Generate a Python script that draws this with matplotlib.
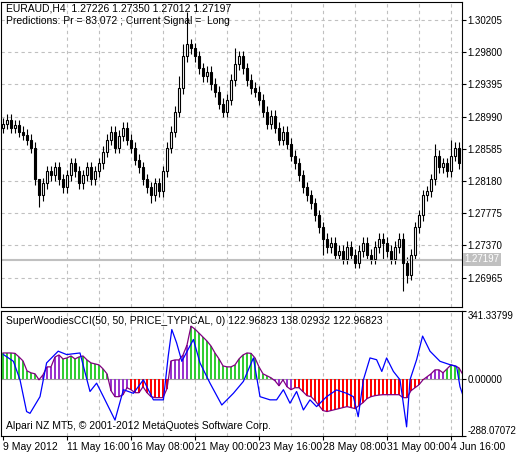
import numpy as np
import matplotlib.pyplot as plt

plt.rcParams['font.family'] = ['Liberation Sans', 'DejaVu Sans']

# closes of the H4 bars (open = previous close)
closes = [1.2890, 1.2895, 1.2885, 1.2888, 1.2880, 1.2876, 1.2870, 1.2860, 1.2820, 1.2800,
          1.2815, 1.2830, 1.2825, 1.2835, 1.2820, 1.2810, 1.2825, 1.2840, 1.2830, 1.2815,
          1.2825, 1.2835, 1.2820, 1.2830, 1.2840,
          1.2855, 1.2870, 1.2880, 1.2860, 1.2875, 1.2885, 1.2870, 1.2860, 1.2845, 1.2835,
          1.2820, 1.2810, 1.2800, 1.2815, 1.2805, 1.2830, 1.2860, 1.2880,
          1.2905, 1.2935, 1.2975, 1.2990, 1.2985,
          1.2975, 1.2960, 1.2950, 1.2955, 1.2940, 1.2930, 1.2915,
          1.2905, 1.2920, 1.2945, 1.2965,
          1.2975, 1.2960, 1.2945, 1.2935, 1.2930,
          1.2920, 1.2905, 1.2890, 1.2900, 1.2885, 1.2870, 1.2880, 1.2865, 1.2850, 1.2840,
          1.2825, 1.2810, 1.2800, 1.2790, 1.2775, 1.2760, 1.2745,
          1.2735, 1.2740, 1.2725, 1.2730, 1.2720, 1.2735, 1.2725, 1.2715, 1.2730, 1.2740,
          1.2725, 1.2720, 1.2735, 1.2745, 1.2740,
          1.2730, 1.2720, 1.2735, 1.2745, 1.2715, 1.2700, 1.2725, 1.2760,
          1.2775, 1.2800, 1.2805, 1.2820, 1.2850, 1.2835, 1.2840, 1.2830, 1.2850, 1.2860,
          1.2840, 1.2775]
first_open = 1.2885
wick = 0.0007
high_override = {9: 1.2815, 44: 1.2950, 45: 1.2990, 46: 1.3030, 58: 1.2985, 108: 1.2865, 112: 1.2870}
low_override = {9: 1.2785, 37: 1.2790, 80: 1.2725, 95: 1.2720, 100: 1.2680, 101: 1.2690}

cci = [130, 130, 130, 128, 110, 90, 40, 30, 25, -5, 20, 60, 60, 110, 120, 100, 105, 115, 100, 110,
       115, 95, 80, 75, 70, 50, 25, -60, -90, -90, -80, -45, -55, -70, -70, -40, -70, -90, -95, -95,
       -95, -50, 90, 95, 95, 120, 170, 265, 250, 230, 210, 190, 165, 130, 100, 65, 60, 60, 70, 100,
       120, 130, 128, 105, 60, 25, 15, 5, -10, -35, -5, -40, -55, -45, -45, -65, -85, -90, -110, -135,
       -160, -165, -160, -155, -150, -145, -140, -145, -150, -135, -120, -100, -90, -85, -82, -80, -80, -80, -80, -80,
       -95, -95, -60, -45, -30, -5, 10, 25, 45, 45, 30, 50, 70, 65, 55, 20]

turbo_bar = [0.1, 2.6, 4.25, 5.9, 6.75, 9.25, 10.9, 13.8, 15.9, 19.25, 21.75, 23.4, 25.1, 28, 30.1,
             32.6, 35.1, 37.6, 40.1, 41.3, 42.2, 43.4, 44.7, 47.6, 49.25, 51.75, 54.7, 57.6, 60.1,
             62.6, 64.25, 66.75, 68.4, 70.1, 71.75, 73.4, 75.1, 76.75, 78.4, 80.9, 83.4, 85.9, 87.6,
             88.8, 90.1, 91.75, 93.4, 94.7, 95.9, 97.6, 99.25, 100.9, 101.75, 103.4, 104.9, 106.75,
             109.25, 111.75, 113.4, 114.25, 115.1]
turbo_val = [122, 88, -5, -165, -174, -90, 80, 139, 122, 130, -64, -22, -90, -208, -55, -73, -5,
             -106, -106, 113, 248, 181, 88, 198, 80, -22, -132, -73, -13, 105, -90, -106, -106, -55,
             -123, -64, -157, -106, -140, -90, -56, -73, -90, -191, -5, 105, 96, 37, 105, 37, -5,
             -242, -5, 96, 215, 139, 88, 71, 62, -40, -90]

price_ticks = [1.26965, 1.27370, 1.27775, 1.28180, 1.28585, 1.28990, 1.29395, 1.29800, 1.30205]
last_price = 1.27197
time_labels = ['9 May 2012', '11 May 16:00', '16 May 08:00', '21 May 00:00',
               '23 May 16:00', '28 May 08:00', '31 May 00:00', '4 Jun 16:00']

n = len(closes)
x = np.arange(n)
c = np.array(closes)
o = np.concatenate([[first_open], c[:-1]])
hi = np.maximum(o, c) + wick
lo = np.minimum(o, c) - wick
for k, v in high_override.items():
    hi[k] = v
for k, v in low_override.items():
    lo[k] = v

fs = 7.5
yfs = 7
fig = plt.figure(figsize=(5.16, 4.57), dpi=100)
ax = fig.add_axes([1/516, 150/457, 461/516, 305/457])
ax2 = fig.add_axes([1/516, 21/457, 461/516, 125/457])
for a in (ax, ax2):
    a.set_xlim(-0.5, 114.75)
    a.yaxis.tick_right()
    a.tick_params(axis='y', labelsize=yfs, length=3, pad=1)
    for gx in np.arange(16, n, 8):
        a.axvline(gx, color='#c0c0c0', ls=(0, (3, 3)), lw=0.8, zorder=0)

# candles
ax.vlines(x, lo, hi, color='black', lw=0.8, zorder=2)
bull = c >= o
ax.bar(x[bull], (c - o)[bull], bottom=o[bull], width=0.7, facecolor='white',
       edgecolor='black', lw=0.8, zorder=3)
ax.bar(x[~bull], (o - c)[~bull], bottom=c[~bull], width=0.7, facecolor='black',
       edgecolor='black', lw=0.8, zorder=3)
ax.set_ylim(1.26595, 1.30431)
ax.set_yticks(price_ticks)
ax.set_yticklabels(['%.5f' % p for p in price_ticks])
for p in price_ticks:
    ax.axhline(p, color='#c0c0c0', ls=(0, (3, 3)), lw=0.8, zorder=0)
ax.axhline(last_price + 0.00005, color='#c0c0c0', lw=0.8)
ax.axhline(last_price - 0.00005, color='#c0c0c0', lw=0.8)
ax.text(1.005, last_price, '%.5f' % last_price, transform=ax.get_yaxis_transform(),
        fontsize=yfs, color='white', va='center', ha='left', clip_on=False,
        bbox=dict(boxstyle='square,pad=0.15', fc='#c0c0c0', ec='none'))
ax.set_xticks([])
ax.text(0.01, 0.995, 'EURAUD,H4  1.27226 1.27350 1.27012 1.27197', transform=ax.transAxes,
        fontsize=fs, va='top')
ax.text(0.01, 0.955, 'Predictions: Pr = 83.072 ; Current Signal =  Long', transform=ax.transAxes,
        fontsize=fs, va='top')

# Woodies CCI histogram
cv = np.array(cci, dtype=float)
colors = []
for i in range(n):
    w = cv[max(0, i - 5):i + 1]
    if np.all(w > 0):
        colors.append('#32cd32')
    elif np.all(w < 0):
        colors.append('red')
    else:
        colors.append('#9932cc')
ax2.bar(x, cv, width=0.5, color=colors, zorder=2)
ax2.plot(x, cv, color='purple', lw=0.9, zorder=3)
ax2.plot(turbo_bar, turbo_val, color='blue', lw=0.9, zorder=4)
ax2.axhline(0, color='#a0a0a0', lw=0.8, zorder=1)
ax2.set_ylim(-288.07072, 341.33799)
ax2.set_yticks([-288.07072, 0, 341.33799])
ax2.set_yticklabels(['-288.07072', '0.00000', '341.33799'])
labs = ax2.get_yticklabels()
labs[0].set_va('bottom')
labs[2].set_va('top')
ax2.set_xticks(np.arange(0, n, 16))
ax2.set_xticklabels(time_labels, fontsize=fs, ha='left')
ax2.tick_params(axis='x', length=3, pad=1)
ax2.text(0.01, 0.96, 'SuperWoodiesCCI(50, 50, PRICE_TYPICAL, 0) 122.96823 138.02932 122.96823',
         transform=ax2.transAxes, fontsize=fs, va='top')
ax2.text(0.01, 0.04, 'Alpari NZ MT5, © 2001-2012 MetaQuotes Software Corp.',
         transform=ax2.transAxes, fontsize=fs, va='bottom')

fig.savefig('out.png', dpi=100)
